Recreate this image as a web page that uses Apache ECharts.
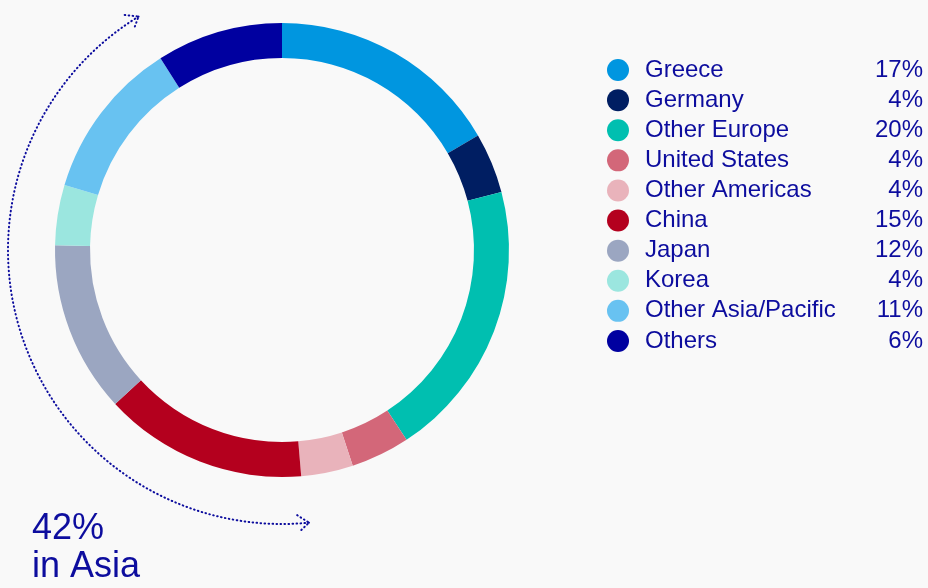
<!DOCTYPE html>
<html>
<head>
<meta charset="utf-8">
<script src="https://cdn.jsdelivr.net/npm/echarts@6/dist/echarts.min.js"></script>
<style>
  html, body { margin: 0; padding: 0; background: #f9f9f9; }
  #main { width: 928px; height: 588px; }
</style>
</head>
<body>
<div id="main"></div>
<script>
// regions, in clockwise order from 12 o'clock
var categories = ['Greece', 'Germany', 'Other Europe', 'United States', 'Other Americas',
  'China', 'Japan', 'Korea', 'Other Asia/Pacific', 'Others'];
// slice sizes as drawn in the ring (share of the full turn, %)
var sliceValues = [16.6, 4.3, 19.9, 4.2, 3.7, 14.5, 12.2, 4.3, 11.4, 9.0];
// printed shares in the legend
var shareLabels = ['17%', '4%', '20%', '4%', '4%', '15%', '12%', '4%', '11%', '6%'];
var colors = ['#0096e0', '#001e62', '#00bfb0', '#d36779', '#e9b3bb',
  '#b4001e', '#9ba6c1', '#9be6df', '#68c2f1', '#0000a0'];
// Asia group: China .. Other Asia/Pacific
var asiaFirst = 5, asiaLast = 8;
var asiaText = ['42%', 'in Asia'];

var ink = '#0d0d9e';
var cx = 282, cy = 250, arcR = 274;

var chart = echarts.init(document.getElementById('main'));

// angles of the Asia group, from the slice values
var total = sliceValues.reduce(function (a, b) { return a + b; }, 0);
var before = 0;
for (var i = 0; i < asiaFirst; i++) before += sliceValues[i];
var upto = before;
for (var j = asiaFirst; j <= asiaLast; j++) upto += sliceValues[j];
// screen angles (radians, 0 = right, growing clockwise)
var a0 = (before / total * 360 - 90 - 0.8) * Math.PI / 180;
var a1 = (upto / total * 360 - 90 + 0.8) * Math.PI / 180;

function pt(a) { return [cx + arcR * Math.cos(a), cy + arcR * Math.sin(a)]; }

// dotted stroke
var dotted = { stroke: ink, lineWidth: 2, lineDash: [0.6, 3.4], lineCap: 'round', fill: null };

function arrowHead(a, dir) {
  // dir: +1 head points with growing angle, -1 against
  var tip = pt(a);
  var tx = -Math.sin(a) * dir, ty = Math.cos(a) * dir;
  var len = 14, half = 38 * Math.PI / 180;
  var bx = -tx, by = -ty;
  var c = Math.cos(half), s = Math.sin(half);
  var p1 = [tip[0] + len * (bx * c - by * s), tip[1] + len * (bx * s + by * c)];
  var p2 = [tip[0] + len * (bx * c + by * s), tip[1] + len * (-bx * s + by * c)];
  return {
    type: 'polyline',
    shape: { points: [p1, tip, p2] },
    style: dotted,
    silent: true
  };
}

chart.setOption({
  backgroundColor: '#f9f9f9',
  animation: false,
  color: colors,
  legend: {
    orient: 'vertical',
    left: 602,
    top: 50,
    itemWidth: 22,
    itemHeight: 22,
    itemGap: 0,
    icon: 'circle',
    selectedMode: false,
    data: categories,
    formatter: function (name) {
      var k = categories.indexOf(name);
      return '{n|' + name + '}{p|' + shareLabels[k] + '}';
    },
    textStyle: {
      fontFamily: 'Liberation Sans, Arial, sans-serif',
      fontSize: 24,
      color: ink,
      lineHeight: 30.1,
      rich: {
        n: { fontSize: 24, color: ink, width: 200, padding: [0, 0, 0, 11], lineHeight: 30.1 },
        p: { fontSize: 24, color: ink, width: 78, align: 'right', lineHeight: 30.1 }
      }
    }
  },
  graphic: [
    {
      type: 'arc',
      shape: { cx: cx, cy: cy, r: arcR, startAngle: a0, endAngle: a1, clockwise: true },
      style: dotted,
      silent: true
    },
    arrowHead(a0, -1),
    arrowHead(a1, 1),
    {
      type: 'text',
      left: 32,
      top: 510,
      style: {
        text: asiaText.join('\n'),
        fontFamily: 'Liberation Sans, Arial, sans-serif',
        fontSize: 36,
        lineHeight: 38,
        fill: ink
      },
      silent: true
    }
  ],
  series: [{
    type: 'pie',
    center: [cx, cy],
    radius: [192, 227],
    startAngle: 90,
    clockwise: true,
    silent: true,
    label: { show: false },
    labelLine: { show: false },
    itemStyle: { borderWidth: 0 },
    data: categories.map(function (c, k) { return { name: c, value: sliceValues[k] }; })
  }]
});
</script>
</body>
</html>
